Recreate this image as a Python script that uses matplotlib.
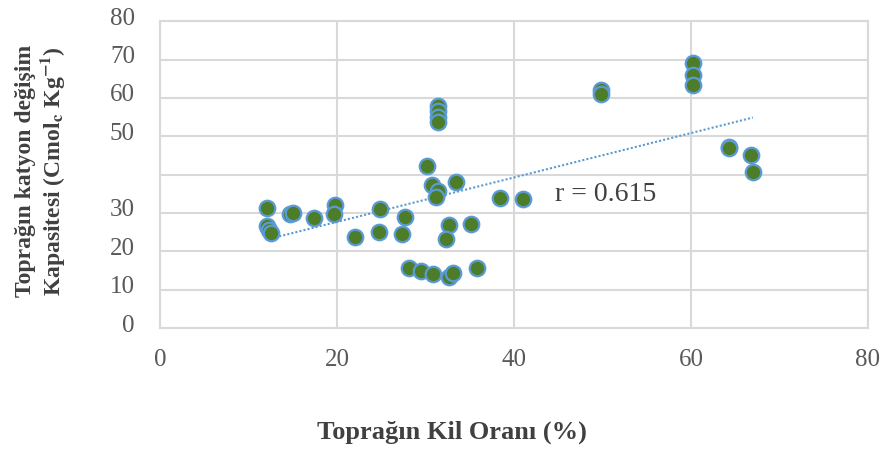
import numpy as np
import matplotlib
matplotlib.use("Agg")
import matplotlib.pyplot as plt
import matplotlib.transforms as mtransforms

# Toprak kil oranı (%) ve katyon değişim kapasitesi
kil = [12.1, 12.1, 12.3, 12.6, 14.7, 15.0, 17.4, 19.8, 19.7, 22.0,
       24.9, 24.7, 27.4, 27.7, 28.1, 29.5, 30.8, 32.7, 33.1, 35.8,
       30.2, 30.7, 31.4, 31.2, 33.5, 31.4, 31.4, 31.4, 31.4,
       32.7, 32.3, 35.1, 38.4, 41.0, 49.8, 49.8,
       60.2, 60.2, 60.2, 64.3, 64.3, 66.8, 67.0]
kdk = [31.2, 26.6, 25.5, 24.8, 29.7, 30.0, 28.7, 32.0, 29.7, 23.7,
       31.0, 25.0, 24.5, 28.9, 15.6, 14.9, 14.1, 13.3, 14.3, 15.6,
       42.2, 37.3, 35.7, 34.1, 38.1, 58.0, 56.5, 55.0, 53.7,
       26.8, 23.2, 27.1, 33.9, 33.6, 62.0, 61.0,
       69.1, 65.9, 63.3, 47.2, 46.9, 45.1, 40.7]
x_ticks = [0, 20, 40, 60, 80]
y_ticks = [0, 10, 20, 30, 40, 50, 60, 70, 80]
y_labels = ["0", "10", "20", "30", "", "50", "60", "70", "80"]
r_text = "r = 0.615"

plt.rcParams["font.family"] = ["Liberation Serif", "DejaVu Serif"]
plt.rcParams["mathtext.fontset"] = "stix"

fig = plt.figure(figsize=(8.82, 4.5), dpi=100)
ax = fig.add_axes([0.1814, 0.271, 0.8026, 0.682])

grid = "#d9d9d9"
ax.scatter(kil, kdk, s=125, color="#4e7d2a", edgecolors="#5b9bd5",
           linewidths=1.6, zorder=3)

# Doğrusal eğilim çizgisi
a, b = np.polyfit(kil, kdk, 1)
xs = np.array([min(kil), max(kil)])
ax.plot(xs, a * xs + b, ls=(0, (1, 1)), color="#5b9bd5", lw=1.5, zorder=2)

ax.text(44.6, 34.7, r_text, fontsize=20, color="#404040", va="center")

ax.set_xlim(0, 80)
ax.set_ylim(0, 80)
ax.set_xticks(x_ticks)
ax.set_yticks(y_ticks)
ax.set_yticklabels(y_labels)
ax.grid(True, color=grid, lw=1.5)
ax.set_axisbelow(True)
for sp in ax.spines.values():
    sp.set_color(grid)
    sp.set_linewidth(1.5)
ax.tick_params(length=0, labelsize=18, labelcolor="#595959")
ax.tick_params(axis="x", pad=15)
ax.tick_params(axis="y", pad=18)
off = mtransforms.ScaledTranslation(0, 5 / 100, fig.dpi_scale_trans)
for lab in ax.get_yticklabels():
    lab.set_transform(lab.get_transform() + off)

fig.text(0.512, 0.04, "Toprağın Kil Oranı (%)", ha="center", va="center",
         fontsize=19, fontweight="bold", color="#404040")
fig.text(0.029, 0.62, "Toprağın katyon değişim", rotation=90, ha="center",
         va="center", fontsize=17, fontweight="bold", color="#404040")
fig.text(0.06, 0.62, r"Kapasitesi (Cmol$_\mathbf{c}$ Kg$^\mathbf{-1}$)",
         rotation=90, ha="center", va="center", fontsize=17,
         fontweight="bold", color="#404040")

fig.savefig("out.png", dpi=100)
